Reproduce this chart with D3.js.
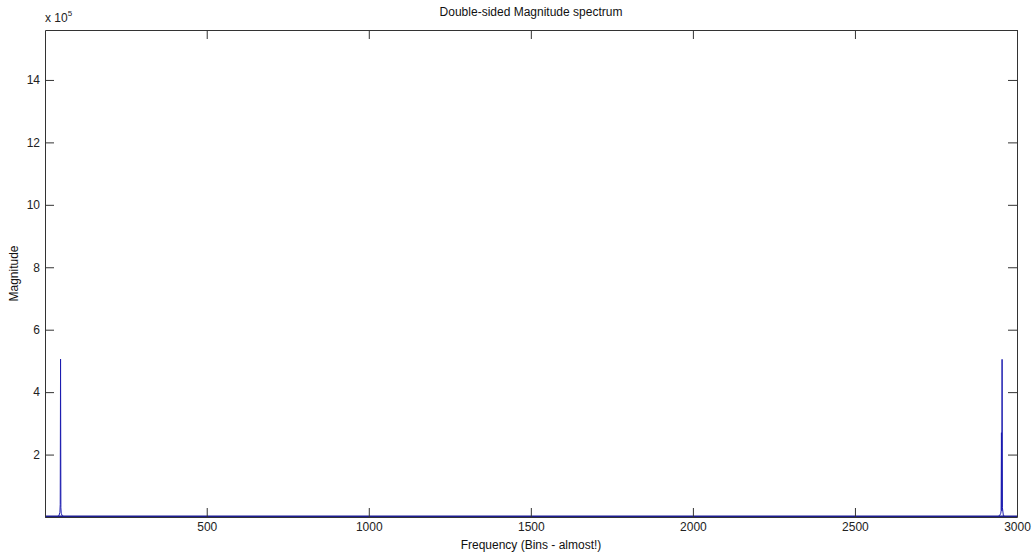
<!DOCTYPE html>
<html>
<head>
<meta charset="utf-8">
<script src="https://cdn.jsdelivr.net/npm/d3@7"></script>
<style>
  body { margin: 0; background: #fff; }
  svg { display: block; font-family: "Liberation Sans", Arial, sans-serif; }
</style>
</head>
<body>
<div id="chart"></div>
<script>
// Spectrum samples (bin, magnitude); everything between is ~0
const bins       = [1, 36, 44, 47, 48, 49, 50, 51, 54, 62, 2938, 2946, 2950, 2951, 2952, 2953, 2954, 2955, 2958, 2966, 3000];
const magnitudes = [0, 0, 4000, 15000, 40000, 506000, 30000, 12000, 4000, 0, 0, 4000, 12000, 20000, 270000, 20000, 505000, 30000, 4000, 0, 0];

const xTicks = [500, 1000, 1500, 2000, 2500, 3000];
const yTicks = [2, 4, 6, 8, 10, 12, 14];   // x 10^5
const xDomain = [1, 3000];
const yDomain = [0, 15.6];

const width = 1035, height = 555;
const margin = {left: 45, top: 30, right: 18, bottom: 38};

const svg = d3.select('#chart').append('svg')
    .attr('width', width)
    .attr('height', height);

const x = d3.scaleLinear().domain(xDomain).range([margin.left, width - margin.right]);
const y = d3.scaleLinear().domain(yDomain).range([height - margin.bottom, margin.top]);

const axisColor = '#333';
const tickLen = 9;
const font = '"Liberation Sans", Arial, sans-serif';

// Series line
const data = bins.map((b, i) => ({bin: b, mag: magnitudes[i] / 1e5}));
const line = d3.line().x(d => x(d.bin)).y(d => y(d.mag));

svg.append('path')
    .datum(data)
    .attr('d', line)
    .attr('fill', 'none')
    .attr('stroke', '#1c1cb0')
    .attr('stroke-width', 1);

// Baseline thicker (dense near-zero values)
svg.append('line')
    .attr('x1', x(xDomain[0]))
    .attr('x2', x(xDomain[1]))
    .attr('y1', y(0) - 0.5)
    .attr('y2', y(0) - 0.5)
    .attr('stroke', '#1c1c90')
    .attr('stroke-width', 2);

// Axes (MATLAB style: box, inward ticks on all sides)
const bottomAxis = d3.axisBottom(x).tickValues(xTicks).tickSizeInner(-tickLen).tickSizeOuter(0).tickPadding(5).tickFormat(d3.format('d'));
const topAxis = d3.axisTop(x).tickValues(xTicks).tickSizeInner(-tickLen).tickSizeOuter(0).tickFormat('');
const leftAxis = d3.axisLeft(y).tickValues(yTicks).tickSizeInner(-tickLen).tickSizeOuter(0).tickPadding(5).tickFormat(d3.format('d'));
const rightAxis = d3.axisRight(y).tickValues(yTicks).tickSizeInner(-tickLen).tickSizeOuter(0).tickFormat('');

function styleAxis(g) {
    g.select('.domain').attr('stroke', axisColor);
    g.selectAll('.tick line').attr('stroke', axisColor);
    g.selectAll('.tick text').attr('fill', '#222').attr('font-size', '12px')
        .attr('font-family', font);
}

svg.append('g').attr('transform', `translate(0,${y(0)})`).call(bottomAxis).call(styleAxis);
svg.append('g').attr('transform', `translate(0,${margin.top})`).call(topAxis).call(styleAxis);
svg.append('g').attr('transform', `translate(${margin.left},0)`).call(leftAxis).call(styleAxis);
svg.append('g').attr('transform', `translate(${width - margin.right},0)`).call(rightAxis).call(styleAxis);

// Exponent label
const expo = svg.append('text')
    .attr('x', margin.left)
    .attr('y', 22)
    .attr('font-size', '12px')
    .attr('fill', '#222');
expo.append('tspan').text('x 10');
expo.append('tspan').attr('dy', -6).attr('font-size', '8px').text('5');

// Title
svg.append('text')
    .attr('x', (margin.left + width - margin.right) / 2)
    .attr('y', 16)
    .attr('text-anchor', 'middle')
    .attr('font-size', '12px')
    .attr('fill', '#111')
    .text('Double-sided Magnitude spectrum');

// Axis labels
svg.append('text')
    .attr('x', (margin.left + width - margin.right) / 2)
    .attr('y', 549)
    .attr('text-anchor', 'middle')
    .attr('font-size', '12px')
    .attr('fill', '#111')
    .text('Frequency (Bins - almost!)');

svg.append('text')
    .attr('transform', `translate(18,${(margin.top + height - margin.bottom) / 2}) rotate(-90)`)
    .attr('text-anchor', 'middle')
    .attr('font-size', '12px')
    .attr('fill', '#111')
    .text('Magnitude');
</script>
</body>
</html>
